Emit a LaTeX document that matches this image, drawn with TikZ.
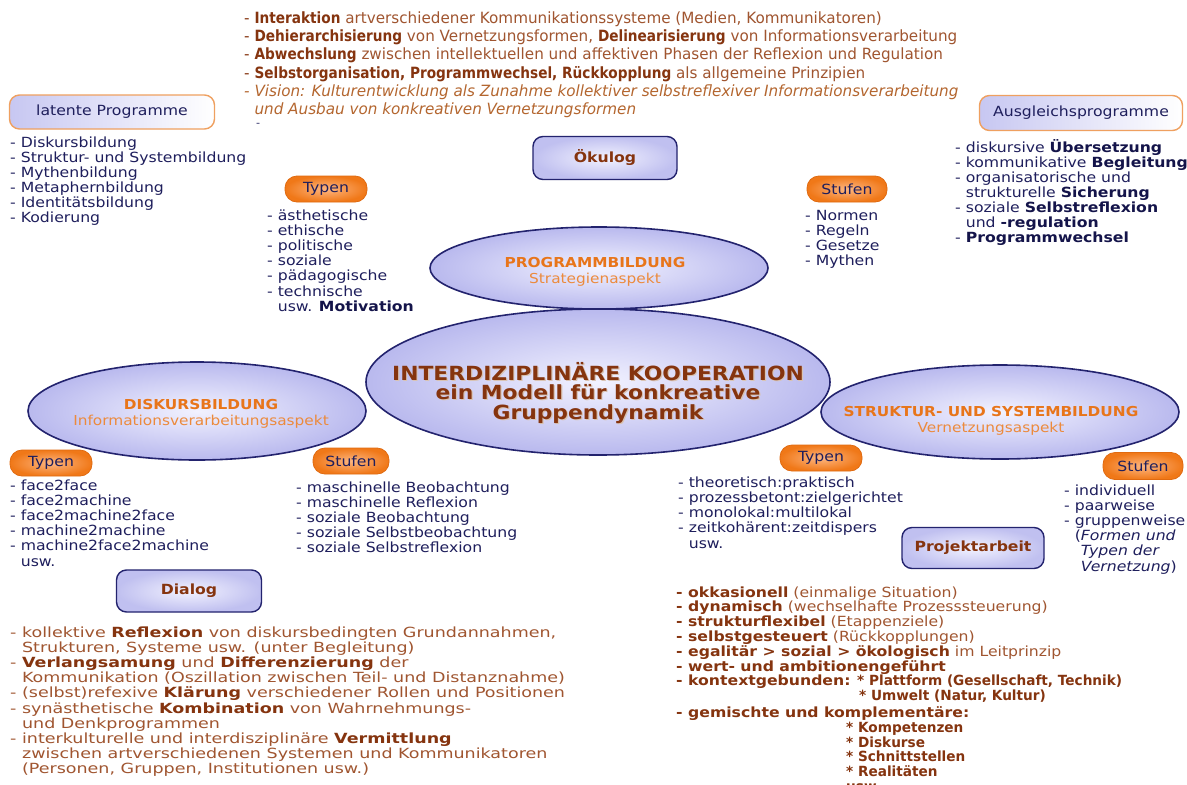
\documentclass[tikz,border=0pt]{standalone}
\usepackage{fontspec}
\usepackage{graphicx}
\setmainfont{DejaVu Sans}[FakeStretch=1.12]
\newfontfamily\topfont{DejaVu Sans}[FakeStretch=0.98]
\newfontfamily\dlgfont{DejaVu Sans}[FakeStretch=1.25]
\usetikzlibrary{shapes.geometric}

% colours
\definecolor{cNavy}{HTML}{1E1E5C}
\definecolor{cNavyD}{HTML}{14144A}
\definecolor{cEdge}{HTML}{23236E}
\definecolor{cLavOut}{HTML}{B9B9EE}
\definecolor{cLavIn}{HTML}{F2F2FF}
\definecolor{cOrT}{HTML}{E8751A}
\definecolor{cOrS}{HTML}{EC8A3C}
\definecolor{cBrown}{HTML}{A05530}
\definecolor{cBrownD}{HTML}{85340F}
\definecolor{cVision}{HTML}{B4662F}
\definecolor{cPillOut}{HTML}{F07818}
\definecolor{cPillIn}{HTML}{FDB680}
\definecolor{cPillEdge}{HTML}{E06A10}
\definecolor{cOBord}{HTML}{EFA060}
\definecolor{cShadow}{HTML}{D9C3B3}

% stacked lines with a fixed baseline distance
\newcommand\blk[2]{\vtop{\lineskiplimit=-\maxdimen\lineskip=0pt\baselineskip=#1\relax #2}}
\newcommand\lin[1]{\hbox{#1}}
\newcommand\clin[1]{\hbox to 0pt{\hss #1\hss}}
% emphasised words
\newcommand\bb[1]{\textbf{\textcolor{cBrownD}{#1}}}
\newcommand\bbn[1]{\scalebox{0.9}[1]{\bb{#1}}}
\newcommand\bbs[1]{\scalebox{0.87}[1]{\bb{#1}}}
\newcommand\bn[1]{\textbf{\textcolor{cNavyD}{#1}}}
\newcommand\shd[1]{\rlap{\hspace{1.2pt}\raisebox{-1.2pt}{\textcolor{cShadow}{#1}}}#1}
\newcommand\ind{\hphantom{- }}

\newcommand\fsList{\fontsize{14}{15.1}\selectfont}
\newcommand\fsTop{\topfont\fontsize{15.5}{18.2}\selectfont}

\tikzset{
  txt/.style={anchor=base west, inner sep=0pt, font=\fsList},
  ctxt/.style={anchor=base, inner sep=0pt},
  ell/.style={ellipse, draw=cEdge, line width=1.6pt, inner color=cLavIn, outer color=cLavOut, inner sep=0pt},
  pill/.style={rounded corners=12pt, draw=cPillEdge, line width=0.8pt, inner color=cPillIn, outer color=cPillOut,
    minimum height=26pt, inner sep=0pt, text=cNavy, font=\fontsize{14}{16}\selectfont},
  obox/.style={rounded corners=10pt, draw=cOBord, line width=1.4pt, left color=cLavOut!80, right color=white,
    minimum height=34pt, inner sep=0pt, text=cNavy, font=\fontsize{14}{16}\selectfont},
  nbox/.style={rounded corners=10pt, draw=cEdge, line width=1.4pt, inner color=cLavIn, outer color=cLavOut!90,
    minimum height=42pt, inner sep=0pt, text=cBrownD, font=\bfseries\fontsize{14}{16}\selectfont},
}

\begin{document}
\begin{tikzpicture}[x=1pt,y=-1pt]
\useasboundingbox (0,0) rectangle (1187,785);
\fill[white] (0,0) rectangle (1187,785);

% ---------- ellipses ----------
\node[ell, minimum width=464pt, minimum height=146pt] (central) at (598,382) {};
\node[ell, minimum width=338pt, minimum height=82pt] (prog) at (599,268) {};
\node[ell, minimum width=338pt, minimum height=98pt] (disk) at (197,411) {};
\node[ell, minimum width=358pt, minimum height=94pt] (struk) at (1000,412) {};

\node[ctxt, font=\bfseries\fontsize{19.5}{19.7}\selectfont, text=cBrownD] (centralT) at (598,380)
  {\blk{19.7pt}{\clin{\shd{INTERDIZIPLINÄRE KOOPERATION}}\clin{\shd{ein Modell für konkreative}}\clin{\shd{Gruppendynamik}}}};
\node[ctxt, font=\fontsize{13.7}{16}\selectfont] (progT) at (595,267)
  {\blk{16pt}{\clin{\textbf{\textcolor{cOrT}{PROGRAMMBILDUNG}}}\clin{\textcolor{cOrS}{Strategienaspekt}}}};
\node[ctxt, font=\fontsize{13.7}{16}\selectfont] (diskT) at (201,409)
  {\blk{16pt}{\clin{\textbf{\textcolor{cOrT}{DISKURSBILDUNG}}}\clin{\textcolor{cOrS}{Informationsverarbeitungsaspekt}}}};
\node[ctxt, font=\fontsize{13.7}{16}\selectfont] (strukT) at (991,416)
  {\blk{16pt}{\clin{\textbf{\textcolor{cOrT}{STRUKTUR- UND SYSTEMBILDUNG}}}\clin{\textcolor{cOrS}{Vernetzungsaspekt}}}};

% ---------- header text ----------
\node[txt, font=\fsTop, text=cBrown] (header) at (244,23.5) {\blk{18.2pt}{%
  \lin{\textcolor{cBrownD}{-} \bbn{Interaktion} artverschiedener Kommunikationssysteme (Medien, Kommunikatoren)}%
  \lin{\textcolor{cBrownD}{-} \bbn{Dehierarchisierung} von Vernetzungsformen, \bbn{Delinearisierung} von Informationsverarbeitung}%
  \lin{\textcolor{cBrownD}{-} \bbn{Abwechslung} zwischen intellektuellen und affektiven Phasen der Reflexion und Regulation}%
  \lin{\textcolor{cBrownD}{-} \bbn{Selbstorganisation, Programmwechsel, Rückkopplung} als allgemeine Prinzipien}%
  \lin{\itshape\textcolor{cVision}{- Vision: Kulturentwicklung als Zunahme kollektiver selbstreflexiver Informationsverarbeitung}}%
  \lin{\itshape\textcolor{cVision}{\ind und Ausbau von konkreativen Vernetzungsformen}}}};
\node[txt, font=\fontsize{10}{12}\selectfont, text=cNavy] (dot) at (256,126) {-};

% ---------- boxes ----------
\node[obox, minimum width=205pt] (latent) at (112,112) {latente Programme};
\node[obox, minimum width=203pt, minimum height=35pt] (ausgl) at (1081,113) {Ausgleichsprogramme};
\node[nbox, minimum width=144pt, minimum height=43pt] (oekulog) at (605,158) {Ökulog};
\node[nbox, minimum width=145pt] (dialog) at (189,591) {Dialog};
\node[nbox, minimum width=142pt, minimum height=41pt] (projekt) at (973,548) {Projektarbeit};

% ---------- pills ----------
\node[pill, minimum width=82pt] (typenA) at (326,189) {Typen};
\node[pill, minimum width=80pt] (stufenA) at (847,189) {Stufen};
\node[pill, minimum width=82pt] (typenB) at (51,463) {Typen};
\node[pill, minimum width=76pt] (stufenB) at (351,461) {Stufen};
\node[pill, minimum width=82pt] (typenC) at (821,458) {Typen};
\node[pill, minimum width=80pt, minimum height=27pt] (stufenC) at (1143,466) {Stufen};

% ---------- navy lists ----------
\node[txt, text=cNavy] (latList) at (10,147) {\blk{15.1pt}{%
  \lin{- Diskursbildung}\lin{- Struktur- und Systembildung}\lin{- Mythenbildung}%
  \lin{- Metaphernbildung}\lin{- Identitätsbildung}\lin{- Kodierung}}};

\node[txt, text=cNavy] (typAList) at (267,220) {\blk{15.2pt}{%
  \lin{- ästhetische}\lin{- ethische}\lin{- politische}\lin{- soziale}%
  \lin{- pädagogische}\lin{- technische}\lin{\ind usw. \bn{Motivation}}}};

\node[txt, text=cNavy] (stuAList) at (805,220) {\blk{15.1pt}{%
  \lin{- Normen}\lin{- Regeln}\lin{- Gesetze}\lin{- Mythen}}};

\node[txt, text=cNavy] (ausglList) at (955,152) {\blk{15.0pt}{%
  \lin{- diskursive \bn{Übersetzung}}\lin{- kommunikative \bn{Begleitung}}%
  \lin{- organisatorische und}\lin{\ind strukturelle \bn{Sicherung}}%
  \lin{- soziale \bn{Selbstreflexion}}\lin{\ind und \bn{-regulation}}\lin{- \bn{Programmwechsel}}}};

\node[txt, text=cNavy] (typBList) at (10,490) {\blk{15.2pt}{%
  \lin{- face2face}\lin{- face2machine}\lin{- face2machine2face}%
  \lin{- machine2machine}\lin{- machine2face2machine}\lin{\ind usw.}}};

\node[txt, text=cNavy] (stuBList) at (296,492) {\blk{15.2pt}{%
  \lin{- maschinelle Beobachtung}\lin{- maschinelle Reflexion}\lin{- soziale Beobachtung}%
  \lin{- soziale Selbstbeobachtung}\lin{- soziale Selbstreflexion}}};

\node[txt, text=cNavy] (typCList) at (678,487) {\blk{15.3pt}{%
  \lin{- theoretisch:praktisch}\lin{- prozessbetont:zielgerichtet}\lin{- monolokal:multilokal}%
  \lin{- zeitkohärent:zeitdispers}\lin{\ind usw.}}};

\node[txt, text=cNavy] (stuCList) at (1064,495) {\blk{15.2pt}{%
  \lin{- individuell}\lin{- paarweise}\lin{- gruppenweise}%
  \lin{\ind(\textit{Formen und}}\lin{\ind\hphantom{(}\textit{Typen der}}\lin{\ind\hphantom{(}\textit{Vernetzung})}}};

% ---------- brown lists ----------
\node[txt, font=\dlgfont\fontsize{14}{15.2}\selectfont, text=cBrown] (dialogList) at (10,637) {\blk{15.2pt}{%
  \lin{- kollektive \bb{Reflexion} von diskursbedingten Grundannahmen,}%
  \lin{\ind Strukturen, Systeme usw. (unter Begleitung)}%
  \lin{- \bb{Verlangsamung} und \bb{Differenzierung} der}%
  \lin{\ind Kommunikation (Oszillation zwischen Teil- und Distanznahme)}%
  \lin{- (selbst)refexive \bb{Klärung} verschiedener Rollen und Positionen}%
  \lin{- synästhetische \bb{Kombination} von Wahrnehmungs-}%
  \lin{\ind und Denkprogrammen}%
  \lin{- interkulturelle und interdisziplinäre \bb{Vermittlung}}%
  \lin{\ind zwischen artverschiedenen Systemen und Kommunikatoren}%
  \lin{\ind (Personen, Gruppen, Institutionen usw.)}}};

\node[txt, text=cBrown] (projList) at (676,597) {\blk{14.8pt}{%
  \lin{\bb{- okkasionell} (einmalige Situation)}%
  \lin{\bb{- dynamisch} (wechselhafte Prozesssteuerung)}%
  \lin{\bb{- strukturflexibel} (Etappenziele)}%
  \lin{\bb{- selbstgesteuert} (Rückkopplungen)}%
  \lin{\bb{- egalitär > sozial > ökologisch} im Leitprinzip}%
  \lin{\bb{- wert- und ambitionengeführt}}%
  \lin{\hbox to 181pt{\bb{- kontextgebunden:}\hss}\bbs{* Plattform (Gesellschaft, Technik)}}%
  \lin{\hspace*{183pt}\bbs{* Umwelt (Natur, Kultur)}}%
  \kern2pt
  \lin{\bb{- gemischte und komplementäre:}}%
  \lin{\hspace*{170pt}\bbs{* Kompetenzen}}%
  \lin{\hspace*{170pt}\bbs{* Diskurse}}%
  \lin{\hspace*{170pt}\bbs{* Schnittstellen}}%
  \lin{\hspace*{170pt}\bbs{* Realitäten}}%
  \lin{\hspace*{170pt}\bbs{usw.}}}};
\end{tikzpicture}
\end{document}
